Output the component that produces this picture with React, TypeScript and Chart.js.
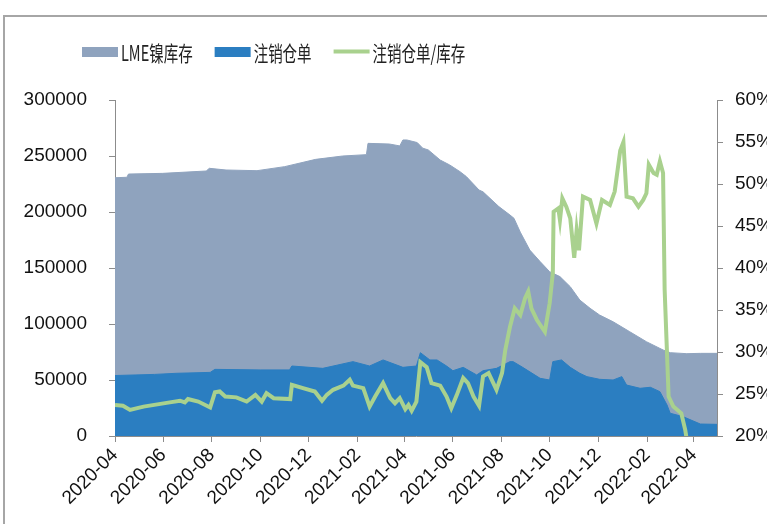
import React, { useEffect, useRef } from 'react';
import { Chart, registerables } from 'chart.js';

Chart.register(...registerables);

const legendLabels = ['LME镍库存', '注销仓单', '注销仓单/库存'];

const xTickLabels = ['2020-04', '2020-06', '2020-08', '2020-10', '2020-12', '2021-02', '2021-04', '2021-06', '2021-08', '2021-10', '2021-12', '2022-02', '2022-04'];

const stockDates = ['2020-04-01', '2020-04-16', '2020-04-18', '2020-05-31', '2020-07-25', '2020-07-29', '2020-08-19', '2020-09-27', '2020-11-01', '2020-12-10', '2021-01-13', '2021-02-12', '2021-02-14', '2021-03-13', '2021-03-26', '2021-03-30', '2021-04-04', '2021-04-17', '2021-04-24', '2021-05-01', '2021-05-16', '2021-05-28', '2021-06-10', '2021-06-18', '2021-07-04', '2021-07-09', '2021-07-29', '2021-08-12', '2021-08-17', '2021-08-25', '2021-09-06', '2021-09-19', '2021-10-01', '2021-10-14', '2021-10-27', '2021-11-08', '2021-11-21', '2021-12-03', '2021-12-20', '2022-01-10', '2022-01-31', '2022-02-21', '2022-03-02', '2022-03-23', '2022-04-09', '2022-04-30'];
const stockValues = [230600, 231000, 233900, 234500, 236600, 239000, 237500, 236900, 240500, 247000, 250000, 251200, 261300, 260700, 259000, 264300, 264300, 262000, 257000, 255400, 246400, 242000, 236000, 231600, 219600, 218000, 204800, 197300, 194400, 182000, 166000, 155700, 146700, 142300, 133300, 121400, 114000, 108000, 102000, 93100, 84200, 76800, 74400, 73500, 73800, 73800];

const warrantDates = ['2020-04-01', '2020-05-21', '2020-06-18', '2020-07-30', '2020-08-05', '2020-10-01', '2020-11-07', '2020-11-10', '2020-12-19', '2021-01-26', '2021-02-16', '2021-03-05', '2021-03-30', '2021-04-16', '2021-04-21', '2021-05-03', '2021-05-12', '2021-05-24', '2021-06-01', '2021-06-14', '2021-07-01', '2021-07-09', '2021-07-26', '2021-08-12', '2021-08-16', '2021-08-28', '2021-09-19', '2021-10-01', '2021-10-05', '2021-10-16', '2021-10-27', '2021-11-08', '2021-11-17', '2021-12-03', '2021-12-20', '2021-12-31', '2022-01-06', '2022-01-23', '2022-02-05', '2022-02-17', '2022-02-26', '2022-03-02', '2022-03-18', '2022-04-09', '2022-04-30'];
const warrantValues = [54000, 55000, 56000, 56800, 59500, 59000, 59000, 62500, 60400, 66400, 62500, 67900, 61300, 62500, 74400, 67900, 67900, 62500, 58300, 61300, 54500, 58300, 60400, 66400, 66400, 61300, 51500, 50000, 66400, 67900, 61300, 56000, 53000, 50600, 50000, 53000, 45500, 42600, 43500, 39600, 27700, 20300, 17300, 10700, 10400];

const ratioDates = ['2020-04-01', '2020-04-11', '2020-04-20', '2020-05-07', '2020-06-09', '2020-06-22', '2020-06-28', '2020-07-02', '2020-07-15', '2020-07-30', '2020-08-05', '2020-08-11', '2020-08-18', '2020-09-01', '2020-09-14', '2020-09-25', '2020-10-03', '2020-10-09', '2020-10-18', '2020-11-08', '2020-11-10', '2020-11-24', '2020-12-09', '2020-12-18', '2020-12-24', '2021-01-01', '2021-01-14', '2021-01-22', '2021-01-26', '2021-02-08', '2021-02-16', '2021-02-23', '2021-03-05', '2021-03-14', '2021-03-20', '2021-03-26', '2021-04-02', '2021-04-06', '2021-04-10', '2021-04-16', '2021-04-21', '2021-04-29', '2021-05-05', '2021-05-16', '2021-05-24', '2021-05-30', '2021-06-06', '2021-06-14', '2021-06-20', '2021-06-27', '2021-07-04', '2021-07-09', '2021-07-16', '2021-07-22', '2021-07-26', '2021-08-02', '2021-08-06', '2021-08-12', '2021-08-18', '2021-08-25', '2021-08-31', '2021-09-04', '2021-09-08', '2021-09-15', '2021-09-25', '2021-10-01', '2021-10-05', '2021-10-06', '2021-10-12', '2021-10-14', '2021-10-17', '2021-10-22', '2021-10-27', '2021-11-01', '2021-11-04', '2021-11-07', '2021-11-12', '2021-11-21', '2021-11-29', '2021-12-06', '2021-12-16', '2021-12-22', '2021-12-29', '2022-01-02', '2022-01-06', '2022-01-14', '2022-01-21', '2022-01-27', '2022-01-31', '2022-02-03', '2022-02-09', '2022-02-13', '2022-02-17', '2022-02-21', '2022-02-23', '2022-02-28', '2022-03-06', '2022-03-16', '2022-03-21', '2022-03-23', '2022-04-09', '2022-04-30'];
const ratioValues = [23.7, 23.6, 23.1, 23.5, 24.0, 24.2, 24.0, 24.4, 24.1, 23.4, 25.2, 25.3, 24.7, 24.6, 24.1, 24.9, 24.1, 25.1, 24.5, 24.4, 26.1, 25.7, 25.3, 24.2, 24.9, 25.5, 26.0, 26.7, 26.0, 25.7, 23.5, 24.7, 26.3, 24.5, 23.9, 24.5, 23.2, 23.7, 23.0, 24.1, 28.8, 28.2, 26.3, 26.0, 24.7, 23.3, 24.9, 26.9, 26.3, 24.7, 23.6, 27.1, 27.5, 26.3, 25.5, 27.5, 30.2, 33.0, 35.2, 34.4, 36.4, 37.2, 35.2, 33.8, 32.4, 35.8, 39.4, 46.7, 47.1, 45.7, 48.3, 47.3, 45.9, 41.2, 44.5, 42.1, 48.5, 48.1, 45.3, 48.1, 47.5, 49.1, 54.0, 55.0, 48.5, 48.3, 47.3, 48.1, 48.9, 52.3, 51.3, 51.1, 52.7, 51.3, 37.4, 24.7, 23.5, 22.7, 20.7, 19.5, 14.5, 14.1];

const BASE = Date.UTC(2020, 3, 1);
const toDay = (s: string) => {
  const p = s.split('-').map(Number);
  return (Date.UTC(p[0], p[1] - 1, p[2] || 1) - BASE) / 86400000;
};
const toPoints = (dates: string[], vals: number[]) => dates.map((d, i) => ({ x: toDay(d), y: vals[i] }));

const GREY = '#8FA3BE';
const BLUE = '#2B7EC1';
const GREEN = '#A9D18E';
const AXIS = '#8C8C8C';
const TEXT = '#111111';
const TICK_FONT = { family: '"Liberation Sans", Arial, sans-serif', size: 19 };

const legendPlugin = {
  id: 'condensedLegend',
  afterDraw(chart: any) {
    const ctx = chart.ctx;
    const sx = 0.69;
    const cy = 52;
    let x = 82;
    ctx.save();
    ctx.font = '21px "Noto Sans CJK SC", sans-serif';
    ctx.textBaseline = 'middle';
    ctx.textAlign = 'left';
    chart.data.datasets.forEach((ds: any, i: number) => {
      if (i < 2) {
        ctx.fillStyle = ds.backgroundColor;
        ctx.fillRect(x, cy - 5, 36, 10);
      } else {
        ctx.strokeStyle = ds.borderColor;
        ctx.lineWidth = 4;
        ctx.beginPath();
        ctx.moveTo(x, cy - 0.5);
        ctx.lineTo(x + 36, cy - 0.5);
        ctx.stroke();
      }
      x += 39;
      const w = ctx.measureText(ds.label).width * sx;
      ctx.save();
      ctx.translate(x, cy + 1);
      ctx.scale(sx, 1);
      ctx.fillStyle = '#222222';
      ctx.fillText(ds.label, 0, 0);
      ctx.restore();
      x += w + 22;
    });
    ctx.restore();
  },
};

export default function App() {
  const ref = useRef<HTMLCanvasElement | null>(null);

  useEffect(() => {
    if (!ref.current) return;
    const tickValues = xTickLabels.map((l) => toDay(l));
    const xMin = toDay(stockDates[0]);
    const xMax = toDay(stockDates[stockDates.length - 1]);
    const chart = new Chart(ref.current, {
      type: 'line',
      data: {
        datasets: [
          {
            label: legendLabels[0],
            data: toPoints(stockDates, stockValues),
            yAxisID: 'y',
            backgroundColor: GREY,
            borderColor: GREY,
            borderWidth: 1,
            fill: 'origin',
            pointRadius: 0,
            tension: 0,
            order: 3,
          },
          {
            label: legendLabels[1],
            data: toPoints(warrantDates, warrantValues),
            yAxisID: 'y',
            backgroundColor: BLUE,
            borderColor: BLUE,
            borderWidth: 1,
            fill: 'origin',
            pointRadius: 0,
            tension: 0,
            order: 2,
          },
          {
            label: legendLabels[2],
            data: toPoints(ratioDates, ratioValues),
            yAxisID: 'y1',
            backgroundColor: GREEN,
            borderColor: GREEN,
            borderWidth: 4,
            fill: false,
            pointRadius: 0,
            tension: 0,
            order: 1,
          },
        ],
      } as any,
      options: {
        responsive: false,
        animation: false,
        layout: { padding: { top: 100, left: 0, right: 0, bottom: 0 } },
        plugins: { legend: { display: false }, tooltip: { enabled: false } },
        scales: {
          x: {
            type: 'linear',
            min: xMin,
            max: xMax,
            afterBuildTicks: (s: any) => {
              s.ticks = tickValues.map((v) => ({ value: v }));
            },
            afterFit: (s: any) => {
              s.height = 88;
            },
            ticks: {
              autoSkip: false,
              minRotation: 45,
              maxRotation: 45,
              padding: 2,
              font: TICK_FONT,
              color: TEXT,
              callback: (_v: any, i: number) => xTickLabels[i],
            },
            grid: { drawOnChartArea: false, drawTicks: true, tickLength: 6, color: AXIS },
            border: { display: true, color: AXIS, width: 1 },
          },
          y: {
            position: 'left',
            min: 0,
            max: 300000,
            afterFit: (s: any) => {
              s.width = 115;
            },
            ticks: {
              stepSize: 50000,
              padding: 22,
              font: TICK_FONT,
              color: TEXT,
              callback: (v: any) => String(v),
            },
            grid: { drawOnChartArea: false, drawTicks: true, tickLength: 6, color: AXIS },
            border: { display: true, color: AXIS, width: 1 },
          },
          y1: {
            position: 'right',
            min: 20,
            max: 60,
            afterFit: (s: any) => {
              s.width = 83;
            },
            ticks: {
              stepSize: 5,
              padding: 12,
              font: TICK_FONT,
              color: TEXT,
              callback: (v: any) => v + '%',
            },
            grid: { drawOnChartArea: false, drawTicks: true, tickLength: 6, color: AXIS },
            border: { display: true, color: AXIS, width: 1 },
          },
        },
      } as any,
      plugins: [legendPlugin],
    });
    return () => chart.destroy();
  }, []);

  return (
    <div style={{ position: 'absolute', left: 0, top: 0, width: 767, height: 524, overflow: 'hidden', background: '#ffffff' }}>
      <div
        style={{
          position: 'absolute',
          left: 3,
          top: 15,
          width: 820,
          height: 600,
          borderLeft: '2px solid #a6a6a6',
          borderTop: '2px solid #a6a6a6',
          boxSizing: 'border-box',
        }}
      />
      <canvas ref={ref} width={800} height={524} style={{ position: 'absolute', left: 0, top: 0, width: 800, height: 524 }} />
    </div>
  );
}
